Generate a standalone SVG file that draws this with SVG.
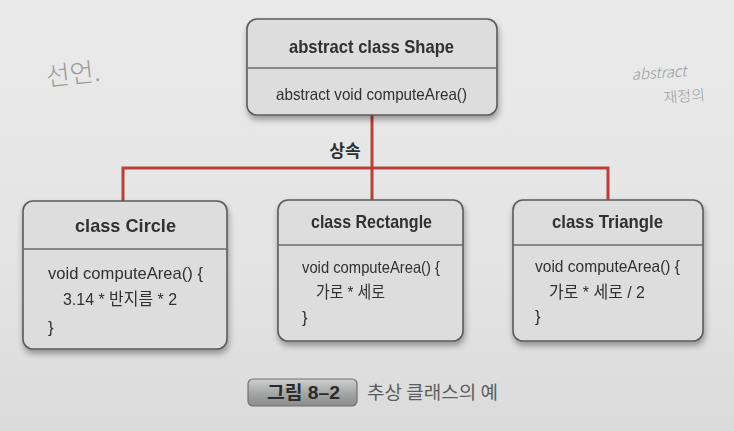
<svg xmlns="http://www.w3.org/2000/svg" width="734" height="431" viewBox="0 0 734 431">
  <defs>
    <linearGradient id="page" x1="0" y1="0" x2="0" y2="1">
      <stop offset="0" stop-color="#e9eae9"/>
      <stop offset="0.6" stop-color="#e3e4e3"/>
      <stop offset="1" stop-color="#dadbda"/>
    </linearGradient>
    <linearGradient id="badge" x1="0" y1="0" x2="0" y2="1">
      <stop offset="0" stop-color="#cfd0d0"/>
      <stop offset="0.5" stop-color="#a6a8a8"/>
      <stop offset="1" stop-color="#8a8c8c"/>
    </linearGradient>
    <filter id="shadow" x="-10%" y="-10%" width="120%" height="130%">
      <feGaussianBlur in="SourceAlpha" stdDeviation="3"/>
      <feOffset dx="1" dy="4" result="b"/>
      <feComponentTransfer><feFuncA type="linear" slope="0.35"/></feComponentTransfer>
      <feMerge><feMergeNode/><feMergeNode in="SourceGraphic"/></feMerge>
    </filter>
    <style>
      .box { fill: #dcdddc; stroke: #5a5b5b; stroke-width: 1.6; }
      .sep { stroke: #6b6c6c; stroke-width: 1.3; }
      .title { font-family: "Liberation Sans", "Noto Sans CJK KR", sans-serif; font-size: 19px; font-weight: bold; fill: #2e3030; }
      .code { font-family: "Liberation Sans", "Noto Sans CJK KR", sans-serif; font-size: 16.5px; fill: #2e3030; }
      .link { fill: none; stroke: #b8403a; stroke-width: 3; }
      .hand { font-family: "Noto Sans CJK KR", sans-serif; font-weight: 300; fill: #9a9b9b; }
    </style>
  </defs>

  <rect width="734" height="431" fill="url(#page)"/>

  <!-- pencil notes -->
  <text class="hand" x="47" y="86" font-size="26" transform="rotate(-6 47 86)">선언.</text>
  <text class="hand" x="632" y="80" font-size="15" font-style="italic" transform="rotate(-4 632 80)">abstract</text>
  <text class="hand" x="664" y="103" font-size="15" transform="rotate(-4 664 103)">재정의</text>

  <!-- inheritance connectors -->
  <g id="connectors">
    <path class="link" d="M372 115 V168 M123 201 V168 H608 V200 M372 168 V200"/>
    <text x="345" y="157" font-family="Liberation Sans, Noto Sans CJK KR, sans-serif" font-size="17" font-weight="bold" fill="#2e3030" text-anchor="middle">상속</text>
  </g>

  <g id="shape" filter="url(#shadow)">
    <rect class="box" x="247" y="19" width="250" height="96" rx="10"/>
    <line class="sep" x1="247" y1="68" x2="497" y2="68"/>
    <text class="title" x="289" y="53" textLength="165" lengthAdjust="spacingAndGlyphs">abstract class Shape</text>
    <text class="code" x="276" y="100" textLength="191" lengthAdjust="spacingAndGlyphs">abstract void computeArea()</text>
  </g>

  <g id="circle" filter="url(#shadow)">
    <rect class="box" x="23" y="201" width="204" height="148" rx="10"/>
    <line class="sep" x1="23" y1="249" x2="227" y2="249"/>
    <text class="title" x="75" y="232" textLength="101" lengthAdjust="spacingAndGlyphs">class Circle</text>
    <text class="code" x="48" y="279" textLength="155" lengthAdjust="spacingAndGlyphs">void computeArea() {</text>
    <text class="code" x="63" y="305" textLength="114" lengthAdjust="spacingAndGlyphs">3.14 * 반지름 * 2</text>
    <text class="code" x="48" y="333">}</text>
  </g>

  <g id="rectangle" filter="url(#shadow)">
    <rect class="box" x="278" y="200" width="185" height="141" rx="10"/>
    <line class="sep" x1="278" y1="245" x2="463" y2="245"/>
    <text class="title" x="311" y="228" font-size="17.5" textLength="121" lengthAdjust="spacingAndGlyphs">class Rectangle</text>
    <text class="code" x="302" y="273" font-size="15.5" textLength="138" lengthAdjust="spacingAndGlyphs">void computeArea() {</text>
    <text class="code" x="316" y="298" font-size="15.5" textLength="69" lengthAdjust="spacingAndGlyphs">가로 * 세로</text>
    <text class="code" x="302" y="323" font-size="15.5">}</text>
  </g>

  <g id="triangle" filter="url(#shadow)">
    <rect class="box" x="513" y="200" width="190" height="141" rx="10"/>
    <line class="sep" x1="513" y1="245" x2="703" y2="245"/>
    <text class="title" x="552" y="228" font-size="18" textLength="111" lengthAdjust="spacingAndGlyphs">class Triangle</text>
    <text class="code" x="535" y="272" font-size="16" textLength="145" lengthAdjust="spacingAndGlyphs">void computeArea() {</text>
    <text class="code" x="549" y="298" font-size="16" textLength="96" lengthAdjust="spacingAndGlyphs">가로 * 세로 / 2</text>
    <text class="code" x="535" y="322" font-size="16">}</text>
  </g>

  <!-- figure caption -->
  <g id="caption">
    <rect x="248" y="379" width="109" height="27" rx="5" fill="url(#badge)" stroke="#6f7171" stroke-width="1.2"/>
    <text x="267" y="399" font-family="Liberation Sans, Noto Sans CJK KR, sans-serif" font-size="18" font-weight="bold" fill="#2a2c2c" textLength="73" lengthAdjust="spacingAndGlyphs">그림 8–2</text>
    <text x="367" y="399" font-family="Noto Sans CJK KR, sans-serif" font-size="18" fill="#5c5e5e" textLength="131" lengthAdjust="spacingAndGlyphs">추상 클래스의 예</text>
  </g>
</svg>
